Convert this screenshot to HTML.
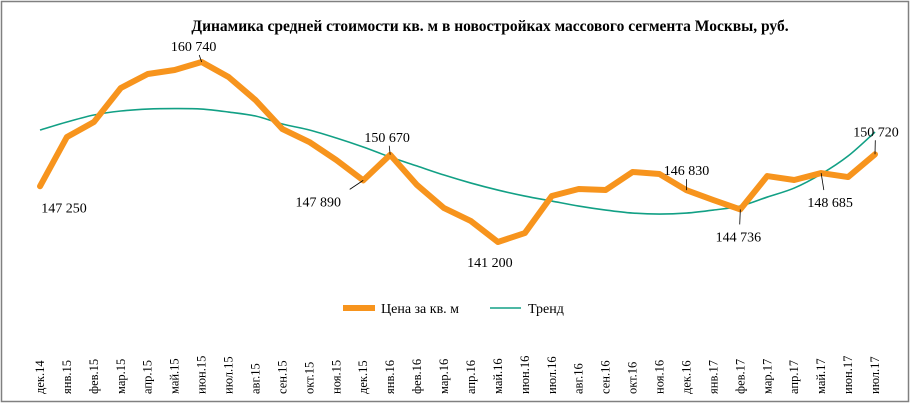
<!DOCTYPE html>
<html><head><meta charset="utf-8"><style>
body{margin:0;background:#fff;}
svg{display:block;font-family:"Liberation Serif",serif;}
</style></head><body>
<svg width="915" height="406" xmlns="http://www.w3.org/2000/svg">
<rect x="1.5" y="1.5" width="907" height="400" fill="#fff" stroke="#808080" stroke-width="1.5"/>
<text x="490" y="31" text-anchor="middle" font-size="15.5" font-weight="bold">Динамика средней стоимости кв. м в новостройках массового сегмента Москвы, руб.</text>
<g id="trend"></g>
<g id="price"></g>
<g id="labels"></g>
<g id="xaxis"></g>
<g>
<line x1="343" y1="308" x2="375" y2="308" stroke="#F7941D" stroke-width="6"/>
<text x="381" y="313" font-size="14">Цена за кв. м</text>
<line x1="490" y1="308" x2="521" y2="308" stroke="#12A085" stroke-width="1.6"/>
<text x="528" y="313" font-size="14">Тренд</text>
</g>
</svg>
<script>
const categories=["дек.14","янв.15","фев.15","мар.15","апр.15","май.15","июн.15","июл.15","авг.15","сен.15","окт.15","ноя.15","дек.15","янв.16","фев.16","мар.16","апр.16","май.16","июн.16","июл.16","авг.16","сен.16","окт.16","ноя.16","дек.16","янв.17","фев.17","мар.17","апр.17","май.17","июн.17","июл.17"];
const priceValues=[147250,152600,154220,157920,159440,159870,160740,159110,156610,153460,152050,150100,147890,150670,147380,144880,143470,141200,142170,146190,146950,146840,148800,148580,146830,145750,144736,148360,147930,148685,148250,150720];
const trendValues=[153355,154224,154984,155419,155636,155690,155636,155310,154876,154007,153355,152486,151509,150423,149446,148469,147600,146840,146188,145645,145102,144667,144341,144233,144341,144667,145102,146079,147056,148577,150532,153138];
const labeledPoints=[0,6,12,13,17,24,26,29,31];
const ns="http://www.w3.org/2000/svg";
function xs(i){return 40+i*(835/(categories.length-1));}
function ys(v){return 62+(160740-v)*(180/19540);}
function fmt(v){return String(v).replace(/\B(?=(\d{3})+(?!\d))/g," ");}
function mk(t,a){const e=document.createElementNS(ns,t);for(const k in a)e.setAttribute(k,a[k]);return e;}
function smooth(vals){
 const p=vals.map((v,i)=>[xs(i),ys(v)]);
 let d="M"+p[0][0]+","+p[0][1];
 for(let i=0;i<p.length-1;i++){
  const p0=p[Math.max(0,i-1)],p1=p[i],p2=p[i+1],p3=p[Math.min(p.length-1,i+2)];
  const c1x=p1[0]+(p2[0]-p0[0])/6,c1y=p1[1]+(p2[1]-p0[1])/6;
  const c2x=p2[0]-(p3[0]-p1[0])/6,c2y=p2[1]-(p3[1]-p1[1])/6;
  d+=" C"+c1x+","+c1y+" "+c2x+","+c2y+" "+p2[0]+","+p2[1];
 }
 return d;
}
const tr=mk("path",{d:smooth(trendValues),fill:"none",stroke:"#12A085","stroke-width":"1.6"});


document.getElementById("trend").appendChild(tr);
const pl=mk("polyline",{points:priceValues.map((v,i)=>xs(i)+","+ys(v)).join(" "),fill:"none",stroke:"#F7941D","stroke-width":"6","stroke-linejoin":"round","stroke-linecap":"round"});


document.getElementById("price").appendChild(pl);
const offs={0:[24,21,0],6:[-8,-16,1],12:[-45,21,1],13:[-3,-18,1],17:[-8,20,0],24:[0,-20,1],26:[-2,27,1],29:[9,29,1],31:[1,-23,1]};
const lg=document.getElementById("labels");
labeledPoints.forEach(i=>{
 const x=xs(i),y=ys(priceValues[i]),o=offs[i]||[0,-16,0];
 if(o[2]){const l=mk("line",{x1:x,y1:y,x2:x+o[0]*0.3,y2:y+(o[1]>0?o[1]-12:o[1]+9),stroke:"#000","stroke-width":"0.8"});
 
 
 lg.appendChild(l);}
 const t=mk("text",{x:x+o[0],y:y+o[1]+5,"text-anchor":"middle","font-size":"14"});
 t.textContent=fmt(priceValues[i]);
 
 
 lg.appendChild(t);
});
const xa=document.getElementById("xaxis");
categories.forEach((c,i)=>{
 const x=xs(i);
 const t=mk("text",{x:0,y:0,"text-anchor":"start","font-size":"12.5",transform:"translate("+(x+4)+",394) rotate(-90)"});
 t.textContent=c;
 
 
 xa.appendChild(t);
});
</script>
</body></html>
